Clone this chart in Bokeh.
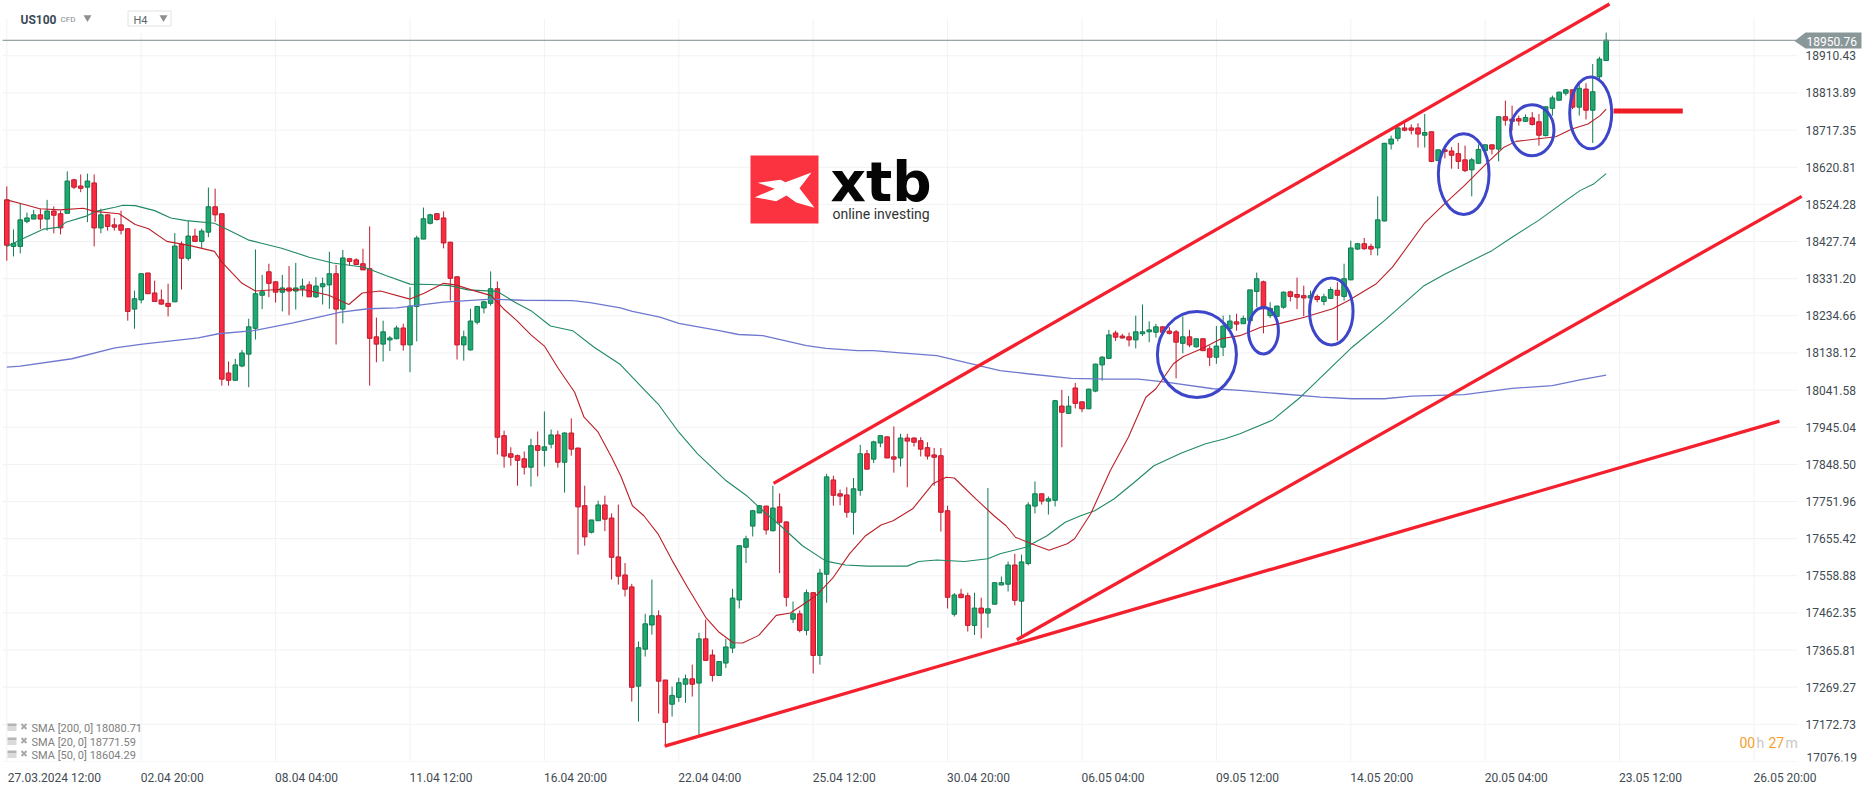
from bokeh.plotting import figure
from bokeh.embed import file_html
from bokeh.resources import INLINE
from bokeh.models import Range1d, FixedTicker, LinearAxis, PrintfTickFormatter, Label, ColumnDataSource

# ---------- price scale / time scale ----------
price_ticks = [18910.43, 18813.89, 18717.35, 18620.81, 18524.28, 18427.74, 18331.20, 18234.66, 18138.12, 18041.58,
               17945.04, 17848.50, 17751.96, 17655.42, 17558.88, 17462.35, 17365.81, 17269.27, 17172.73, 17076.19]
date_labels = ["27.03.2024  12:00", "02.04  20:00", "08.04  04:00", "11.04  12:00", "16.04  20:00", "22.04  04:00", "25.04  12:00",
               "30.04  20:00", "06.05  04:00", "09.05  12:00", "14.05  20:00", "20.05  04:00", "23.05  12:00", "26.05  20:00"]
last_price = 18950.76
legend_rows = ["SMA [200, 0] 18080.71", "SMA [20, 0] 18771.59", "SMA [50, 0] 18604.29"]

# ---------- H4 candles (one value per bar) ----------
opens = [18536,18415,18415,18480,18486,18497,18486,18507,18500,18501,18588,18572,18569,18580,18463,18497,18471,18471,18461,18252,
         18276,18346,18294,18276,18267,18271,18421,18384,18442,18428,18452,18518,18500,18086,18067,18104,18135,18202,18288,18349,
         18323,18296,18307,18299,18305,18315,18284,18310,18315,18344,18252,18383,18380,18370,18357,18180,18161,18172,18175,18203,
         18159,18259,18434,18475,18500,18489,18426,18336,18159,18146,18218,18255,18267,18305,17923,17876,17871,17863,17841,17897,
         17885,17901,17925,17854,17930,17891,17741,17672,17702,17743,17709,17608,17561,17530,17272,17368,17431,17455,17288,17225,
         17243,17277,17291,17280,17395,17353,17300,17332,17371,17496,17633,17688,17722,17740,17676,17738,17699,17446,17460,17417,
         17515,17352,17563,17808,17772,17769,17724,17781,17876,17862,17904,17920,17868,17865,17917,17917,17910,17892,17873,17871,
         17728,17459,17511,17507,17430,17475,17462,17485,17535,17537,17587,17493,17591,17740,17772,17753,17755,18000,17981,18047,
         18011,17993,18039,18107,18124,18190,18182,18180,18172,18188,18193,18192,18206,18195,18193,18163,18180,18154,18175,18149,
         18127,18153,18202,18219,18214,18222,18298,18323,18235,18233,18257,18297,18290,18287,18281,18285,18272,18280,18301,18285,
         18328,18408,18422,18415,18411,18481,18681,18696,18723,18723,18723,18704,18713,18638,18666,18663,18656,18640,18614,18631,
         18664,18679,18668,18752,18746,18747,18740,18749,18739,18703,18774,18795,18813,18822,18777,18824,18769,18856,18898]
highs = [18571,18459,18526,18503,18510,18513,18536,18519,18508,18610,18591,18602,18604,18602,18513,18498,18489,18508,18461,18300,
         18345,18346,18326,18303,18318,18450,18428,18482,18461,18461,18568,18565,18500,18116,18123,18146,18227,18407,18341,18370,
         18324,18341,18364,18372,18331,18324,18335,18334,18401,18367,18406,18383,18384,18409,18467,18230,18222,18182,18209,18214,
         18309,18443,18516,18500,18501,18506,18427,18337,18196,18253,18259,18274,18350,18324,17936,17893,17874,17882,17915,17934,
         17986,17939,17936,17932,17968,17891,17793,17704,17754,17767,17721,17744,17592,17538,17388,17460,17549,17469,17288,17271,
         17294,17302,17328,17411,17445,17367,17336,17395,17525,17638,17663,17730,17743,17741,17793,17773,17700,17492,17469,17523,
         17516,17577,17824,17819,17783,17789,17813,17899,17886,17910,17923,17921,17947,17928,17928,17919,17919,17906,17891,17891,
         17741,17514,17525,17515,17515,17502,17787,17542,17557,17596,17616,17614,17750,17804,17772,17765,18016,18042,18026,18060,
         18012,18045,18110,18130,18198,18196,18188,18191,18235,18264,18220,18214,18207,18205,18198,18233,18198,18175,18175,18157,
         18208,18235,18237,18240,18235,18302,18347,18326,18270,18261,18298,18300,18334,18313,18300,18290,18292,18309,18322,18370,
         18430,18424,18437,18422,18545,18684,18703,18725,18738,18732,18735,18759,18713,18666,18673,18673,18684,18677,18645,18680,
         18681,18679,18752,18794,18781,18755,18758,18764,18759,18778,18807,18817,18824,18822,18837,18839,18889,18908,18971]
lows = [18378,18389,18397,18475,18486,18460,18456,18449,18446,18501,18564,18556,18478,18415,18449,18456,18456,18446,18222,18201,
        18267,18292,18272,18263,18233,18270,18303,18378,18428,18411,18439,18479,18053,18053,18065,18101,18049,18173,18252,18283,
        18269,18246,18236,18251,18285,18284,18281,18264,18253,18160,18215,18365,18368,18354,18053,18114,18116,18143,18174,18144,
        18088,18168,18434,18472,18482,18410,18274,18121,18118,18144,18212,18241,18261,17874,17840,17845,17793,17822,17791,17817,
        17843,17890,17840,17775,17871,17614,17637,17669,17702,17675,17549,17536,17505,17232,17180,17349,17406,17201,17116,17193,
        17231,17229,17245,17144,17339,17284,17299,17319,17358,17474,17592,17661,17722,17666,17674,17566,17479,17436,17412,17404,
        17305,17328,17489,17741,17742,17710,17666,17767,17836,17852,17893,17865,17827,17843,17789,17895,17869,17861,17793,17674,
        17474,17453,17501,17414,17405,17396,17424,17485,17535,17518,17482,17395,17586,17721,17744,17718,17739,17893,17981,17994,
        17984,17992,18036,18066,18122,18169,18175,18155,18150,18182,18166,18178,18186,18186,18072,18137,18153,18152,18143,18104,
        18110,18130,18201,18196,18214,18221,18257,18189,18229,18233,18253,18272,18252,18233,18270,18270,18262,18279,18170,18274,
        18328,18406,18406,18392,18391,18480,18667,18688,18714,18706,18672,18672,18634,18636,18644,18617,18616,18608,18545,18629,
        18651,18654,18636,18729,18716,18729,18740,18729,18677,18701,18755,18794,18807,18772,18755,18745,18684,18846,18898]
closes = [18418,18423,18484,18489,18497,18486,18507,18496,18463,18585,18569,18566,18585,18463,18497,18467,18465,18457,18246,18279,
          18344,18292,18272,18265,18259,18416,18384,18442,18428,18455,18518,18497,18070,18067,18107,18138,18206,18292,18297,18319,
          18296,18307,18299,18307,18312,18284,18312,18318,18344,18252,18385,18376,18368,18354,18176,18161,18193,18177,18203,18159,
          18260,18437,18487,18497,18485,18424,18332,18159,18180,18221,18259,18271,18305,17919,17870,17867,17859,17841,17897,17885,
          17894,17925,17854,17930,17888,17738,17660,17704,17743,17706,17607,17558,17524,17269,17372,17434,17455,17285,17178,17248,
          17281,17291,17277,17395,17339,17300,17336,17374,17501,17637,17655,17728,17741,17678,17735,17698,17503,17460,17417,17515,
          17352,17566,17816,17768,17766,17724,17785,17876,17836,17907,17923,17865,17862,17917,17909,17906,17888,17870,17867,17724,
          17503,17509,17502,17430,17475,17462,17473,17541,17541,17587,17495,17595,17743,17772,17753,17759,18014,17984,18000,18007,
          17993,18044,18109,18127,18185,18179,18177,18172,18193,18193,18198,18206,18192,18189,18166,18180,18159,18175,18144,18127,
          18156,18208,18221,18213,18228,18302,18331,18253,18254,18260,18296,18285,18283,18281,18287,18277,18284,18303,18288,18331,
          18411,18422,18409,18408,18484,18683,18694,18723,18717,18717,18707,18711,18636,18666,18662,18652,18636,18612,18640,18667,
          18679,18668,18752,18743,18740,18741,18750,18732,18704,18778,18801,18816,18822,18777,18826,18769,18817,18902,18951]

# ---------- moving averages, read at the bends of each curve ----------
sma20_bar = [0,2.6,4.9,7.9,11.4,13,16.7,19.1,21.1,23.8,27.3,30.9,32,35,37,40.3,44.4,47.9,50.9,52.9,55.6,60,62.1,65,66.8,69.1,72.1,73.9,75.9,78,80,82.1,84.5,85.9,88,90,91.4,
             93.1,94.8,96.9,99,101.3,104,106,108.1,109.5,111.9,114.5,116.6,119.5,120.7,123,125.4,127.8,130.1,131.9,134.8,137.8,139.8,141,144.2,146.9,148.7,150.1,152.5,155.1,157.8,158.9,161.3,164.2,166.9,169.5,
             171,173.6,175.1,177.8,180.7,183.5,186.6,189.5,193.1,197.3,199.6,203.8,206.2,210.9,213.9,216.9,220.4,222.8,224.6,227.6,230.5,232.9,235.3,237.1,238]
sma20_val = [18536,18524,18513,18510,18514,18506,18500,18472,18461,18428,18417,18402,18374,18319,18299,18303,18302,18288,18264,18294,18299,18278,18293,18319,18315,18302,18287,18253,18222,18185,18156,18097,18036,17971,17932,17867,17817,
             17741,17715,17668,17599,17529,17451,17412,17385,17384,17404,17456,17462,17496,17512,17555,17616,17663,17691,17702,17733,17798,17815,17813,17759,17715,17689,17659,17642,17625,17642,17655,17720,17832,17919,18023,
             18045,18110,18129,18149,18175,18183,18205,18215,18231,18253,18274,18318,18361,18474,18525,18573,18634,18673,18688,18694,18700,18720,18733,18755,18771.59]
sma50_bar = [0,2.6,5.5,7.9,8.8,11.7,13.2,16.1,17.3,19.1,22,24.4,26.7,30.9,32.6,35.9,37.9,40.9,45,48.5,53.2,56.5,60,63.2,65.9,68.6,73,75.6,78,80.9,84.2,87.4,91.3,95.7,
             96.9,100,102.8,106.9,110.1,112.5,115.4,118.4,121.9,124.8,128.1,134,135.7,138.4,142.5,146,147.8,151.6,154.8,157.5,159.8,161.9,164.8,167.8,170.7,174.8,178.4,181.3,183.5,188.4,
             192.5,200.2,205,210.9,213.9,221,224,227.9,232,234.1,236.2,238]
sma50_val = [18415,18437,18460,18465,18478,18493,18506,18517,18522,18521,18508,18489,18482,18475,18461,18432,18423,18410,18387,18372,18361,18339,18317,18316,18313,18302,18298,18270,18248,18208,18196,18153,18108,18027,
             18006,17932,17876,17808,17767,17728,17685,17637,17597,17587,17584,17584,17596,17600,17596,17603,17616,17633,17663,17698,17715,17728,17759,17802,17845,17878,17902,17915,17928,17964,
             18023,18153,18222,18313,18342,18404,18439,18482,18534,18560,18578,18604.29]
sma200_bar = [0,2,9.7,16.1,20.2,28.5,31.5,36.7,42.6,49.7,53.8,58,65,72.1,76.8,84.2,86.8,91.3,93.1,97.2,100,106,108.9,112.5,119,121.9,126.6,129,132.5,138.4,144.2,147.8,151.9,158.4,163.7,168.4,172.5,179.5,183.5,
              189.5,195.5,200.2,205,209.1,216.9,224,230,234.1,238]
sma200_val = [18101,18104,18123,18151,18161,18177,18188,18196,18216,18244,18253,18255,18270,18278,18275,18274,18269,18255,18246,18231,18215,18196,18186,18183,18157,18150,18144,18144,18139,18131,18107,18092,18084,18072,18070,18070,18062,18045,18041,
              18032,18023,18019,18019,18026,18030,18046,18053,18068,18080.71]

# ---------- drawings on the chart ----------
trend_upper_bar, trend_upper_val = [114.1, 238.5], [17799, 19045]
trend_mid_bar, trend_mid_val = [150.3, 267.1], [17392.5, 18545]
trend_low_bar, trend_low_val = [97.9, 263.8], [17116, 17961]
marker_bar, marker_val = [239.1, 249.4], [18767, 18767]
circle_bar = [177.1, 187, 197.1, 216.8, 227, 235.7]
circle_val = [18134, 18196, 18246, 18603, 18717, 18762]
circle_w = [11.76, 4.46, 6.47, 7.54, 6.47, 6.25]
circle_h = [223.5, 121, 174, 210, 133, 186]

# ---------- geometry ----------
W, H = 1866, 787
FRAME_R, FRAME_B = W, 761    # the frame runs to the page edge; price labels are pulled back inside it
X0, DX = 6.3, 6.72           # pixel of bar 0, pixels per bar
DY = 0.38474                 # pixels per price unit
BOT = price_ticks[-1]
TOP = BOT + FRAME_B / DY
xd = lambda px: (px - X0) / DX
yd = lambda py: TOP - py / DY

p = figure(width=W, height=H, output_backend="svg", toolbar_location=None,
           x_range=Range1d(xd(0), xd(FRAME_R)), y_range=Range1d(BOT, TOP),
           x_axis_location=None, y_axis_location=None,
           min_border_left=0, min_border_top=0, min_border_right=0, min_border_bottom=H - FRAME_B,
           background_fill_color="white", border_fill_color="white")
p.outline_line_color = None
p.grid.visible = False

# grid lines
GRID = "#f1f2f3"
bars_per_tick = 20
v_ticks = [i * bars_per_tick for i in range(len(date_labels))]
for i, t in enumerate(v_ticks):
    py_top = 32 if i == 1 else 18
    p.line([t, t], [BOT, yd(py_top)], line_color=GRID, line_width=1)
for t in price_ticks:
    p.line([xd(2), xd(1797)], [t, t], line_color=GRID, line_width=1)

# logo
LOGO_RED = "#fb3340"
p.quad(left=xd(750), right=xd(818), top=yd(155), bottom=yd(223), fill_color=LOGO_RED, line_color=None)
logo_px = [(243,96),(207,143),(252,202),(197,186),(168,165),(137,182),(73,170),(133,145),(82,127),(150,118),(165,125)]
p.patch([xd(730 + a / 3) for a, b in logo_px], [yd(140 + b / 3) for a, b in logo_px], fill_color="white", line_color=None)
p.add_layout(Label(x=xd(830), y=yd(181), text="xtb", text_font="DejaVu Sans", text_font_style="bold", text_font_size="55px",
                   text_color="#050505", text_baseline="middle", text_align="left"))
p.add_layout(Label(x=xd(832), y=yd(213), text="online investing", text_font="Roboto", text_font_size="14px",
                   text_color="#333333", text_baseline="middle", text_align="left"))

# candles
UP, UP_DARK = "#1fa86f", "#0f7a50"
DN, DN_DARK = "#fb2b42", "#bd1a2c"
bars = list(range(len(opens)))
src = ColumnDataSource(dict(
    bar=bars, o=opens, h=highs, l=lows, c=closes,
    top=[max(a, b) for a, b in zip(opens, closes)],
    bot=[min(a, b) for a, b in zip(opens, closes)],
    fill=[UP if b >= a else DN for a, b in zip(opens, closes)],
    edge=[UP_DARK if b >= a else DN_DARK for a, b in zip(opens, closes)]))
p.segment("bar", "h", "bar", "l", source=src, line_color="edge", line_width=1)
p.vbar(x="bar", top="top", bottom="bot", width=0.68, source=src, fill_color="fill", line_color="edge", line_width=1)

# moving averages
p.line(sma200_bar, sma200_val, line_color="#6f78cf", line_width=1.3)
p.line(sma50_bar, sma50_val, line_color="#1f8a64", line_width=1.1)
p.line(sma20_bar, sma20_val, line_color="#bb2029", line_width=1.1)

# last price line
p.line([xd(2), xd(1796)], [last_price, last_price], line_color="#7c8b8d", line_width=1)

# drawings
TREND = "#f5202e"
for bx, vy in [(trend_upper_bar, trend_upper_val), (trend_mid_bar, trend_mid_val), (trend_low_bar, trend_low_val)]:
    p.line(bx, vy, line_color=TREND, line_width=3.3)
p.line(marker_bar, marker_val, line_color="#ee1c25", line_width=5)
p.ellipse(x=circle_bar, y=circle_val, width=circle_w, height=circle_h, fill_color=None, line_color="#3d45c8", line_width=3)

# last price tag, below the axis labels
tag = [(1794, 40.5), (1805, 32), (1861, 32), (1861, 48), (1805, 48)]
p.patch([xd(a) for a, b in tag], [yd(b) for a, b in tag], fill_color="#8a9799", line_color=None)

# axes
DARK = "#3f4b52"
price_axis = LinearAxis(ticker=FixedTicker(ticks=price_ticks[:-1], minor_ticks=[]),
                        formatter=PrintfTickFormatter(format="%.2f"),
                        major_tick_line_color=None, minor_tick_line_color=None, axis_line_color=None,
                        major_label_text_font="Roboto", major_label_text_font_size="12px",
                        major_label_text_color=DARK, major_label_standoff=-67)
p.add_layout(price_axis, "right")

first_half = 49 / DX         # half label widths in bars: axis labels are centred, the chart's start at the tick
other_half = 32.5 / DX
date_ticks = [t + (first_half if i == 0 else other_half) for i, t in enumerate(v_ticks)]
date_axis = LinearAxis(ticker=FixedTicker(ticks=date_ticks, minor_ticks=[]),
                       major_label_overrides={float(t): s for t, s in zip(date_ticks, date_labels)},
                       major_tick_line_color=None, minor_tick_line_color=None, axis_line_color=None,
                       major_label_text_font="Roboto", major_label_text_font_size="12px",
                       major_label_text_color=DARK, major_label_standoff=3)
p.add_layout(date_axis, "below")


def text(px, py, s, size, color, font="Roboto", style="normal", align="left"):
    p.add_layout(Label(x=xd(px), y=yd(py), text=s, text_font=font, text_font_size=f"{size}px", text_color=color,
                       text_font_style=style, text_baseline="middle", text_align=align))


# lowest price label sits a little above its tick so it clears the date labels
text(1806, 757, f"{price_ticks[-1]:.2f}", 12, DARK)
text(1806, 41, f"{last_price:.2f}", 12, "#ffffff")

# header
text(20, 19, "US100", 12, "#3a4a54", style="bold")
text(60, 19, "CFD", 8, "#7f8c8d")
p.quad(left=xd(127.5), right=xd(170.5), top=yd(10.5), bottom=yd(25.5), fill_color="white", line_color="#dfe2e4", line_width=1)
text(133, 20, "H4", 11, "#5a666d")
p.scatter([xd(87), xd(163)], [yd(17), yd(17)], marker="inverted_triangle", size=8, fill_color="#8f8f8f", line_color=None)

# indicator legend
GREY = "#808080"
for row, py in zip(legend_rows, [728, 742, 755]):
    text(31, py, row, 11, GREY)
    p.quad(left=xd(7), right=xd(16), top=yd(py - 5), bottom=yd(py - 2), fill_color="#b5b5b5", line_color=None)
    p.quad(left=xd(7), right=xd(16), top=yd(py - 1), bottom=yd(py), fill_color="#b5b5b5", line_color=None)
    p.quad(left=xd(7), right=xd(16), top=yd(py + 1), bottom=yd(py + 2), fill_color="#b5b5b5", line_color=None)
    p.scatter([xd(23.5)], [yd(py - 2)], marker="x", size=7, line_color="#a8a8a8", line_width=2)

# countdown
ORANGE, PALE = "#f7a02c", "#c8c8c8"
text(1739, 742, "00", 14, ORANGE)
text(1756, 742, "h", 14, PALE)
text(1768, 742, "27", 14, ORANGE)
text(1785, 742, "m", 14, PALE)

open("out.html", "w").write(file_html(p, INLINE))
